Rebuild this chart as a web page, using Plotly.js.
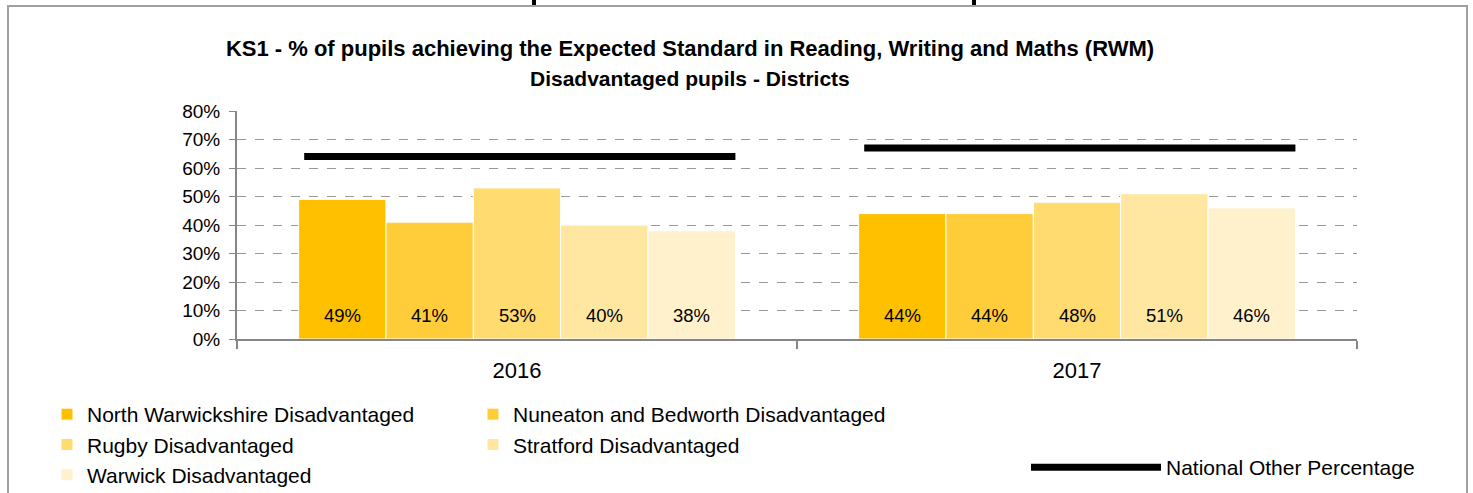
<!DOCTYPE html>
<html>
<head>
<meta charset="utf-8">
<script src="https://cdn.plot.ly/plotly-3.0.1.min.js"></script>
<style>
  html, body { margin:0; padding:0; background:#fff; }
  #wrap { position:relative; width:1473px; height:493px; overflow:hidden; }
  #chart { position:absolute; left:0; top:0; width:1473px; height:493px; }
  .frame { position:absolute; left:7px; top:5px; width:1461px; height:520px; border:2px solid #a0a0a0; pointer-events:none; box-sizing:border-box; }
  .mark { position:absolute; top:0; width:4px; height:5px; background:#000; pointer-events:none; }
</style>
</head>
<body>
<div id="wrap">
  <div id="chart"></div>
  <div class="frame"></div>
  <div class="mark" style="left:532px"></div>
  <div class="mark" style="left:972px"></div>
</div>
<script>
// ---- data ----
const years = ['2016', '2017'];
const seriesNames = [
  'North Warwickshire Disadvantaged',
  'Nuneaton and Bedworth Disadvantaged',
  'Rugby Disadvantaged',
  'Stratford Disadvantaged',
  'Warwick Disadvantaged'
];
const northWarwickshire = [49, 44];
const nuneatonBedworth = [41, 44];
const rugby = [53, 48];
const stratford = [40, 51];
const warwick = [38, 46];
const nationalOther = [64, 67];
const nationalName = 'National Other Percentage';

// ---- styles ----
const seriesColors = ['#FFC000', '#FFCD3A', '#FFDB70', '#FFE7A2', '#FFF1CB'];
const seriesLegend = ['legend', 'legend3', 'legend', 'legend3', 'legend'];
const FONT = 'Liberation Sans, Arial, sans-serif';
const BARGAP = 0.22;

const seriesValues = [northWarwickshire, nuneatonBedworth, rugby, stratford, warwick];
const xIdx = years.map((_, i) => i);
const nS = seriesValues.length;
const bw = (1 - BARGAP) / nS;

const traces = seriesValues.map((vals, j) => ({
  type: 'bar',
  name: seriesNames[j],
  x: xIdx,
  y: vals,
  marker: { color: seriesColors[j], line: { color: '#ffffff', width: 1 } },
  hoverinfo: 'skip',
  legend: seriesLegend[j]
}));

// national line spanning each category group
const lx = [], ly = [];
xIdx.forEach((i, k) => {
  lx.push(i - (1 - BARGAP) / 2 + 0.01, i + (1 - BARGAP) / 2, null);
  ly.push(nationalOther[k], nationalOther[k], null);
});
traces.push({
  type: 'scatter',
  mode: 'lines',
  name: nationalName,
  x: lx,
  y: ly,
  line: { color: '#000000', width: 7 },
  hoverinfo: 'skip',
  legend: 'legend2'
});

// value labels at bar bases
const annotations = [];
seriesValues.forEach((vals, j) => {
  vals.forEach((v, i) => {
    annotations.push({
      x: xIdx[i] + (j - (nS - 1) / 2) * bw,
      y: 0,
      xref: 'x', yref: 'y',
      text: v + '%',
      showarrow: false,
      yanchor: 'bottom',
      yshift: 11,
      font: { family: FONT, size: 18.5, color: '#000' }
    });
  });
});
annotations.push({
  xref: 'paper', yref: 'paper',
  x: (690 - 237) / 1120, y: (339 - 78) / 228,
  xanchor: 'center', yanchor: 'middle',
  text: '<b>Disadvantaged pupils - Districts</b>',
  showarrow: false,
  font: { family: FONT, size: 21, color: '#000' }
});

const layout = {
  width: 1473,
  height: 493,
  margin: { l: 237, r: 116, t: 111, b: 154, autoexpand: false },
  paper_bgcolor: '#ffffff',
  plot_bgcolor: '#ffffff',
  font: { family: FONT, color: '#000' },
  title: {
    text: '<b>KS1 - % of pupils achieving the Expected Standard in Reading, Writing and Maths (RWM)</b>',
    font: { family: FONT, size: 22, color: '#000' },
    xref: 'container', yref: 'container',
    x: 690 / 1473, xanchor: 'center',
    y: 1 - 48 / 493, yanchor: 'middle'
  },
  barmode: 'group',
  bargap: BARGAP,
  bargroupgap: 0,
  xaxis: {
    range: [-0.5, 1.5],
    tickmode: 'array',
    tickvals: xIdx,
    ticktext: years,
    ticks: 'outside',
    ticklen: 11,
    tickcolor: 'rgba(0,0,0,0)',
    showline: true,
    linecolor: '#868686',
    linewidth: 2,
    showgrid: false,
    zeroline: false,
    tickfont: { family: FONT, size: 22, color: '#000' },
    minor: {
      tickmode: 'array',
      tickvals: [-0.5, 0.5, 1.5],
      ticks: 'outside',
      ticklen: 8,
      tickwidth: 2,
      tickcolor: '#868686',
      showgrid: false
    },
    fixedrange: true
  },
  yaxis: {
    range: [0, 80],
    tickmode: 'linear',
    tick0: 0,
    dtick: 10,
    ticksuffix: '%',
    showgrid: true,
    gridcolor: '#999999',
    griddash: 'dash',
    gridwidth: 1,
    showline: true,
    linecolor: '#868686',
    linewidth: 2,
    ticks: 'outside',
    ticklen: 6,
    tickwidth: 1,
    tickcolor: '#868686',
    zeroline: false,
    ticklabelstandoff: 5,
    tickfont: { family: FONT, size: 19, color: '#000' },
    fixedrange: true
  },
  legend: {
    orientation: 'v',
    x: (47 - 237) / 1120,
    xanchor: 'left',
    y: (339 - 394) / 228,
    yanchor: 'top',
    traceorder: 'normal',
    font: { family: FONT, size: 21, color: '#000' },
    bgcolor: 'rgba(0,0,0,0)'
  },
  legend3: {
    orientation: 'v',
    x: (473 - 237) / 1120,
    xanchor: 'left',
    y: (339 - 394) / 228,
    yanchor: 'top',
    traceorder: 'normal',
    font: { family: FONT, size: 21, color: '#000' },
    bgcolor: 'rgba(0,0,0,0)'
  },
  legend2: {
    orientation: 'h',
    x: (1026 - 237) / 1120,
    xanchor: 'left',
    y: (339 - 447) / 228,
    yanchor: 'top',
    itemwidth: 130,
    font: { family: FONT, size: 21, color: '#000' },
    bgcolor: 'rgba(0,0,0,0)'
  },
  annotations: annotations,
  showlegend: true
};

Plotly.newPlot('chart', traces, layout, { displayModeBar: false, staticPlot: true });
</script>
</body>
</html>
